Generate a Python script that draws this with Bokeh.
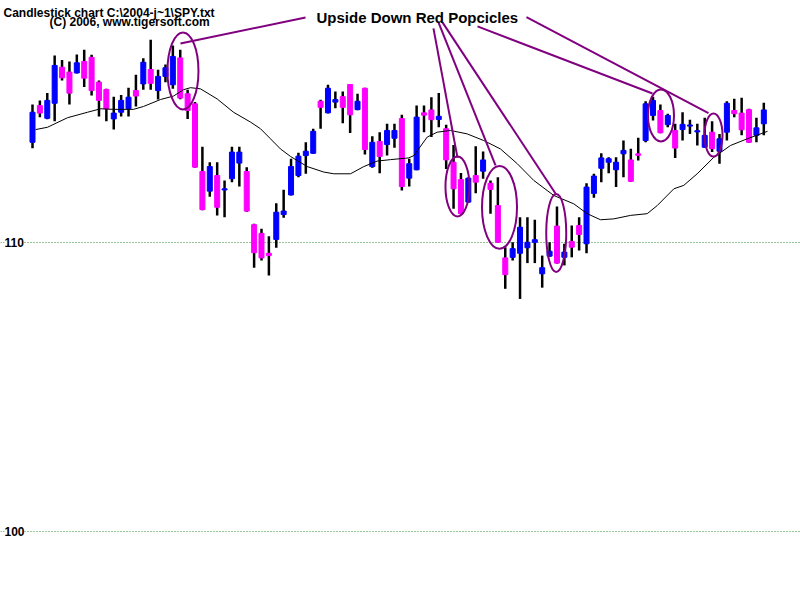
from bokeh.plotting import figure
from bokeh.models import Range1d, Grid, FixedTicker, Label, ColumnDataSource
from bokeh.core.properties import value
from bokeh.embed import file_html
from bokeh.resources import INLINE

# ---------------- data ----------------
opens = [113.45,114.72,114.28,114.80,116.05,115.88,115.85,116.25,116.39,115.53,
         115.28,114.26,114.49,114.61,115.24,115.47,115.97,115.24,115.73,115.44,
         116.37,115.13,114.78,112.44,111.76,112.30,111.80,112.19,112.73,112.44,
         110.60,110.30,109.61,110.09,110.95,111.63,112.30,112.99,113.07,114.87,
         114.47,114.84,115.03,115.45,114.58,115.32,112.61,113.48,113.37,113.59,
         114.27,112.21,112.50,114.47,114.57,114.24,113.92,112.76,112.16,111.38,
         112.30,112.45,112.03,111.26,109.45,109.47,109.61,109.80,109.99,108.90,
         109.51,110.55,109.47,110.02,110.57,109.94,111.68,112.55,112.76,112.50,
         113.05,112.84,113.05,113.51,114.38,114.55,114.06,113.86,113.89,114.01,
         113.81,113.28,113.80,113.14,113.80,114.55,114.46,114.58,113.69,114.09]
highs = [114.76,114.90,115.16,116.45,116.30,116.25,116.49,116.65,116.48,115.59,
         115.30,115.03,115.09,115.34,115.79,116.36,117.00,115.96,116.14,116.80,
         116.65,115.27,114.84,113.30,112.76,112.76,112.13,113.30,113.30,112.59,
         110.63,110.46,110.20,111.34,111.81,112.88,113.09,113.45,113.92,114.92,
         115.44,115.21,115.21,115.47,115.13,115.34,113.66,113.80,114.09,114.09,
         114.40,112.88,114.72,114.72,115.01,115.16,114.06,113.36,112.39,112.23,
         113.31,113.13,112.13,112.24,109.82,109.99,110.86,110.86,110.77,109.53,
         109.99,111.23,109.94,110.57,110.86,112.03,112.36,113.07,112.93,112.93,
         113.51,113.23,113.61,114.87,115.03,114.76,114.44,114.09,114.49,114.23,
         114.09,114.30,114.18,113.74,114.87,114.96,114.99,114.61,114.30,114.82]
lows = [113.24,114.32,114.25,114.18,115.59,114.76,115.83,115.36,115.07,114.34,
        114.18,113.89,114.34,114.34,114.69,115.27,115.27,114.93,115.53,115.30,
        114.94,114.26,112.57,111.10,111.57,110.92,110.86,112.07,111.92,111.05,
        109.11,109.36,108.84,109.80,110.84,111.61,112.24,112.36,113.05,113.92,
        114.45,114.63,114.11,113.77,114.56,113.03,112.57,112.38,112.99,113.26,
        111.78,111.92,112.48,113.80,113.63,113.97,112.53,111.15,110.96,111.36,
        111.69,112.19,110.98,109.97,108.38,109.36,108.03,109.27,109.27,108.42,
        109.49,109.25,109.19,109.47,109.71,109.61,111.53,112.07,112.38,111.90,
        112.24,112.08,112.82,113.45,114.20,113.76,113.97,112.91,113.51,113.74,
        113.34,113.26,113.11,112.71,113.51,114.32,113.69,113.43,113.45,113.69]
closes = [114.49,114.46,114.90,116.11,115.68,115.15,116.20,115.67,115.24,114.90,
          114.61,114.46,114.90,115.01,115.05,116.22,115.49,115.73,116.03,116.42,
          114.98,114.55,112.59,111.12,112.61,111.20,111.84,113.11,113.11,111.07,
          109.63,109.45,109.53,111.03,111.07,112.61,112.97,113.14,113.83,114.66,
          115.32,114.93,114.66,114.40,114.87,113.20,113.45,112.96,113.86,113.86,
          111.92,112.71,114.32,114.39,114.23,114.35,112.84,111.84,110.98,112.21,
          112.07,112.84,111.82,109.99,108.87,109.77,110.51,109.99,110.08,109.11,
          109.68,109.27,109.65,109.82,110.26,111.90,112.28,112.91,112.88,112.76,
          113.17,112.10,113.00,114.78,114.90,113.78,114.38,113.25,114.07,114.05,
          113.85,113.69,113.23,113.57,114.80,114.44,113.88,113.45,113.95,114.57]

# moving average line (read at candle-index positions)
ma_x = [0.41,2.03,4.74,7.45,9.21,10.97,13.67,15.03,17.33,19.09,20.44,21.39,22.74,25.0,27.21,
        29.51,30.86,32.22,33.57,34.93,37.19,39.43,40.79,43.05,44.85,46.66,48.46,50.94,51.62,
        53.43,54.79,56.59,58.85,61.09,63.35,65.62,67.86,70.57,73.28,75.09,76.89,78.69,80.95,
        83.21,84.57,86.82,88.17,89.98,92.23,94.49,96.75,99.5]
ma_y = [113.89,113.97,114.30,114.49,114.61,114.59,114.59,114.69,114.93,115.05,115.27,115.34,
        115.30,114.95,114.49,114.15,113.92,113.57,113.22,112.96,112.61,112.42,112.36,112.36,
        112.61,112.80,112.85,112.91,112.99,113.63,113.80,113.86,113.74,113.51,113.22,112.71,
        112.13,111.61,111.32,110.98,110.77,110.80,110.92,110.98,111.26,111.84,111.96,112.36,
        112.93,113.34,113.57,113.83]

y_ticks = [100, 110]
y_tick_labels = ["100", "110"]

title_line1 = "Candlestick chart C:\\2004-j~1\\SPY.txt"
title_line2 = "(C) 2006, www.tigersoft.com"
annotation_text = "Upside Down Red Popcicles"

# annotation ellipses: centre (candle index, price), size in screen px
ell_x = [20.37, 57.53, 63.22, 70.90, 85.08, 92.19]
ell_y = [115.92, 111.92, 111.20, 110.31, 114.38, 113.70]
ell_w = [31, 24, 35, 20, 26, 18]
ell_h = [77, 60, 83, 78, 52, 43]
# pointer lines (candle index, price)
ln_x0 = [20.03, 54.28, 54.96, 55.50, 60.24, 66.87]
ln_y0 = [116.87, 117.39, 117.60, 117.60, 117.46, 117.78]
ln_x1 = [36.96, 57.53, 62.68, 70.80, 83.93, 91.51]
ln_y1 = [117.77, 112.92, 112.65, 111.68, 115.14, 114.46]

# ---------------- layout ----------------
W, H = 800, 600
PAGE_OFF = 0
X0_PX, DX = 32.0, 7.387          # page x of candle 0, px per candle
Y110_PX, DY = 241.5, 28.9        # page y of 110, px per point

def xd(px):
    return (px - X0_PX) / DX

def yd(py):
    return 110 + (Y110_PX - py) / DY

p = figure(width=W, height=H, output_backend="svg", toolbar_location=None,
           x_axis_location=None, y_axis_location=None,
           x_range=Range1d(xd(PAGE_OFF), xd(PAGE_OFF + W)),
           y_range=Range1d(yd(PAGE_OFF + H), yd(PAGE_OFF)),
           min_border=0)
p.outline_line_color = None
p.background_fill_color = "white"
p.border_fill_color = "white"
# drop default grids, keep only dotted price levels
p.center = [r for r in p.center if not isinstance(r, Grid)]
p.add_layout(Grid(dimension=1, ticker=FixedTicker(ticks=y_ticks),
                  grid_line_color="#2e8b2e", grid_line_dash="1 2", grid_line_width=1))

BLUE = "#0000FF"
MAGENTA = "#FF00FF"
idx = list(range(len(opens)))
src = ColumnDataSource(dict(
    x=idx, h=highs, l=lows,
    top=[max(o, c) for o, c in zip(opens, closes)],
    bottom=[min(o, c) for o, c in zip(opens, closes)],
    color=[BLUE if c > o else MAGENTA for o, c in zip(opens, closes)],
))
p.segment(x0="x", y0="h", x1="x", y1="l", source=src, line_color="black", line_width=2.5)
p.vbar(x="x", width=5.0 / DX, top="top", bottom="bottom", source=src,
       fill_color="color", line_color="color", line_width=1)

p.line(ma_x, ma_y, line_color="black", line_width=1)

PURPLE = "#800080"
p.ellipse(x=ell_x, y=ell_y, width=ell_w, height=ell_h,
          width_units="screen", height_units="screen",
          fill_color=None, line_color=PURPLE, line_width=2)
p.segment(x0=ln_x0, y0=ln_y0, x1=ln_x1, y1=ln_y1, line_color=PURPLE, line_width=2)

FONT = "Liberation Sans"
p.add_layout(Label(x=xd(3), y=yd(12), text=title_line1, text_font=FONT,
                   text_font_size="12px", text_font_style="bold", text_color="black",
                   text_baseline="alphabetic", text_align="left"))
p.add_layout(Label(x=xd(49), y=yd(21.5), text=title_line2, text_font=FONT,
                   text_font_size="12px", text_font_style="bold", text_color="black",
                   text_baseline="alphabetic", text_align="left"))
p.add_layout(Label(x=xd(316), y=yd(17), text=annotation_text, text_font=FONT,
                   text_font_size="15px", text_font_style="bold", text_color="black",
                   text_baseline="alphabetic", text_align="left"))

for t, lab in zip(y_ticks, y_tick_labels):
    p.add_layout(Label(x=xd(4), y=t, text=lab, text_font=FONT,
                       text_font_size="12px", text_font_style="bold", text_color="black",
                       text_baseline="middle", text_align="left",
                       background_fill_color="white"))

open("out.html", "w").write(file_html(p, INLINE))
